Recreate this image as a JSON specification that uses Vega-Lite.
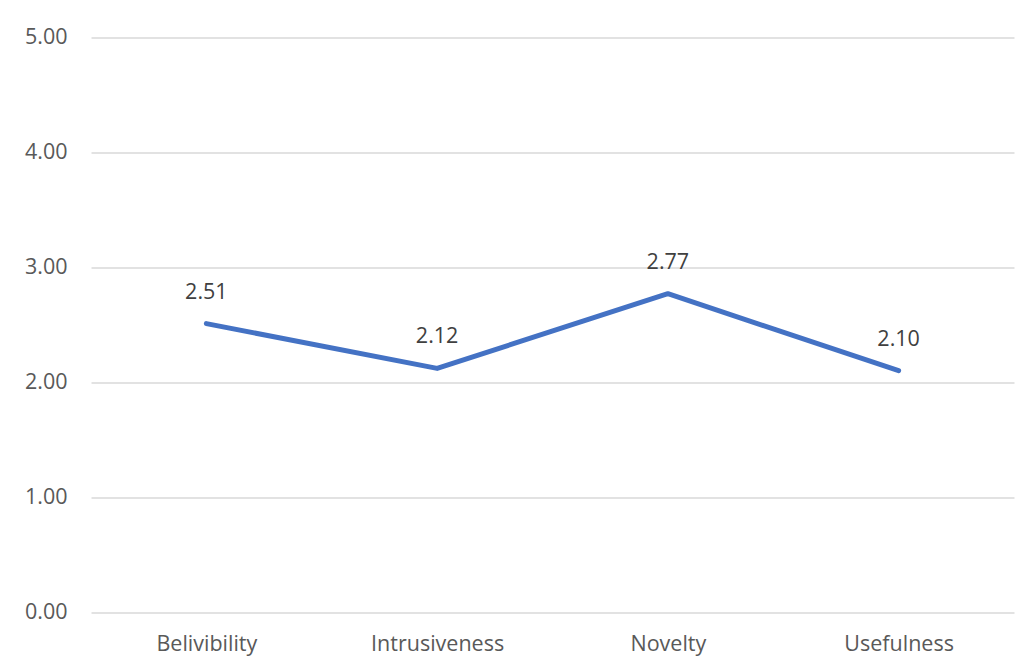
{
  "$schema": "https://vega.github.io/schema/vega-lite/v6.json",
  "autosize": {"type": "none"},
  "width": 923,
  "height": 574.5,
  "padding": {"left": 91, "top": 37.5, "right": 18, "bottom": 56},
  "background": "white",
  "config": {
    "view": {"stroke": null},
    "font": "Open Sans"
  },
  "data": {
    "values": [
      {"category": "Belivibility", "score": 2.51},
      {"category": "Intrusiveness", "score": 2.12},
      {"category": "Novelty", "score": 2.77},
      {"category": "Usefulness", "score": 2.10}
    ]
  },
  "encoding": {
    "x": {
      "field": "category",
      "type": "nominal",
      "sort": null,
      "scale": {"type": "point", "padding": 0.5},
      "axis": {
        "title": null,
        "domain": false,
        "ticks": false,
        "labelAngle": 0,
        "labelFont": "Open Sans",
        "labelFontSize": 21.5,
        "labelColor": "#595959",
        "labelPadding": 21
      }
    },
    "y": {
      "field": "score",
      "type": "quantitative",
      "scale": {"domain": [0, 5], "nice": false},
      "axis": {
        "title": null,
        "values": [0, 1, 2, 3, 4, 5],
        "format": ".2f",
        "domain": false,
        "ticks": false,
        "grid": true,
        "gridColor": "#d9d9d9",
        "gridWidth": 1.5,
        "labelFont": "Open Sans",
        "labelFontSize": 21.5,
        "labelColor": "#595959",
        "labelPadding": 24
      }
    }
  },
  "layer": [
    {
      "mark": {"type": "line", "color": "#4472c4", "strokeWidth": 5, "strokeCap": "round", "strokeJoin": "round"}
    },
    {
      "mark": {"type": "text", "dy": -31, "fontSize": 21.5, "font": "Open Sans", "color": "#404040"},
      "encoding": {"text": {"field": "score", "type": "quantitative", "format": ".2f"}}
    }
  ]
}
